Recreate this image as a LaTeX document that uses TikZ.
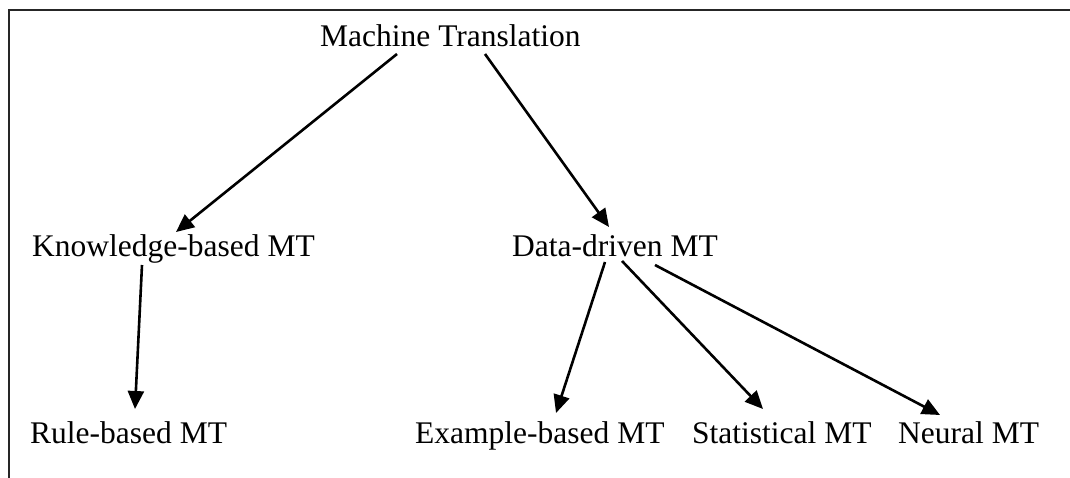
\documentclass[tikz,border=0pt]{standalone}
\usepackage{fontspec}
\setmainfont{Liberation Serif}
\usetikzlibrary{arrows.meta,calc}
\begin{document}
\begin{tikzpicture}[x=1pt,y=-1pt,
  lbl/.style={inner sep=0pt,anchor=base west,font=\fontsize{31.5}{38}\selectfont},
  arr/.style={line width=2.6pt,-{Triangle[length=18pt,width=16pt]}},
  frame/.style={line width=2pt,draw=black!85}]
\useasboundingbox (0,0) rectangle (1070,478);
\fill[white] (0,0) rectangle (1070,478);
\draw[frame] (9,478) -- (9,10) -- (1070,10);
\node[lbl] (mt) at (320,47) {Machine Translation};
\node[lbl] (kb) at (32,257) {Knowledge-based MT};
\node[lbl] (dd) at (512,257) {Data-driven MT};
\node[lbl] (rb) at (30,443) {Rule-based MT};
\node[lbl] (eb) at (415,443) {Example-based MT};
\node[lbl] (st) at (692,443) {Statistical MT};
\node[lbl] (nm) at (898,443) {Neural MT};
\draw[arr] ($(mt.base west)+(77,7)$) -- ($(kb.base west)+(144,-25)$);
\draw[arr] ($(mt.base west)+(165,7)$) -- ($(dd.base west)+(97,-30)$);
\draw[arr] ($(kb.base west)+(110,8)$) -- ($(rb.base west)+(105,-34)$);
\draw[arr] ($(dd.base west)+(93,5)$) -- ($(eb.base west)+(141,-30)$);
\draw[arr] ($(dd.base west)+(110,4)$) -- ($(st.base west)+(71,-34)$);
\draw[arr] ($(dd.base west)+(143,8)$) -- ($(nm.base west)+(42,-28)$);
\end{tikzpicture}
\end{document}
